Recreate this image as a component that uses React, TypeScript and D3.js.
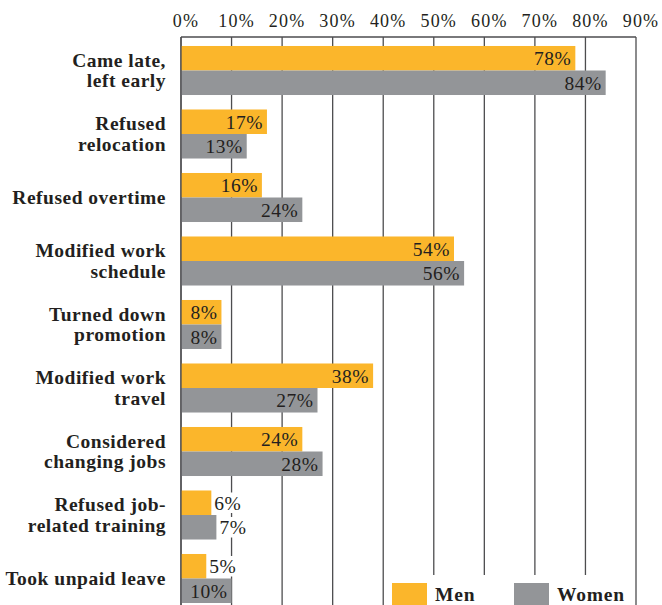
import React, { useEffect } from "react";
import * as d3 from "d3";

const categories = [
  "Came late,\nleft early",
  "Refused\nrelocation",
  "Refused overtime",
  "Modified work\nschedule",
  "Turned down\npromotion",
  "Modified work\ntravel",
  "Considered\nchanging jobs",
  "Refused job-\nrelated training",
  "Took unpaid leave",
];
const series = ["Men", "Women"];
const menValues = [78, 17, 16, 54, 8, 38, 24, 6, 5];
const womenValues = [84, 13, 24, 56, 8, 27, 28, 7, 10];
const tickValues = [0, 10, 20, 30, 40, 50, 60, 70, 80, 90];

const W = 662;
const H = 605;
const COLORS: Record<string, string> = { Men: "#FBB62B", Women: "#939598" };
const TEXT = "#231F20";
const LINE = "#4D4D4F";
const FONT = "'Liberation Serif', 'DejaVu Serif', serif";

export default function App() {
  useEffect(() => {
    document.body.style.margin = "0";
  }, []);

  const x = d3.scaleLinear().domain([0, 90]).range([181, 636]);
  const y = d3
    .scaleBand<string>()
    .domain(categories)
    .range([38.75, 610.25])
    .paddingInner(0.228)
    .paddingOuter(0.114);
  const ySub = d3.scaleBand<string>().domain(series).range([0, y.bandwidth()]);
  const valuesBy: Record<string, number[]> = { Men: menValues, Women: womenValues };

  const top = 37;

  return (
    <svg
      width={W}
      height={H}
      style={{ position: "absolute", left: 0, top: 0, background: "#fff" }}
      fontFamily={FONT}
    >
      {tickValues.map((t) => (
        <line
          key={"g" + t}
          x1={x(t)}
          x2={x(t)}
          y1={top}
          y2={H}
          stroke={LINE}
          strokeWidth={1.3}
        />
      ))}
      <line x1={x(0)} x2={x(90)} y1={top} y2={top} stroke={LINE} strokeWidth={1.3} />
      {tickValues.map((t) => (
        <text
          key={"t" + t}
          x={x(t) + 5}
          y={27}
          textAnchor="middle"
          fontSize={18}
          letterSpacing={1.2}
          fill={TEXT}
        >
          {t + "%"}
        </text>
      ))}
      {categories.map((c, i) =>
        series.map((s) => {
          const v = valuesBy[s][i];
          const y0 = (y(c) as number) + (ySub(s) as number);
          const h = ySub.bandwidth();
          const inside = v >= 8;
          const lx = inside ? x(v) - 4 : x(v) + 3;
          return (
            <g key={c + s}>
              <rect x={x(0)} y={y0} width={x(v) - x(0)} height={h} fill={COLORS[s]} />
              {!inside && (
                <rect x={x(v) + 1} y={y0 + 2} width={32} height={h - 4} fill="#fff" />
              )}
              <text
                x={lx}
                y={y0 + h / 2 + 7}
                textAnchor={inside ? "end" : "start"}
                fontSize={19.5}
                letterSpacing={0.5}
                fill={TEXT}
              >
                {v + "%"}
              </text>
            </g>
          );
        })
      )}
      <line x1={x(0)} x2={x(0)} y1={top} y2={H} stroke={LINE} strokeWidth={1.3} />
      {categories.map((c) => {
        const lines = c.split("\n");
        const cy = (y(c) as number) + y.bandwidth() / 2;
        return (
          <text
            key={"c" + c}
            textAnchor="end"
            fontSize={19.5}
            letterSpacing={0.5}
            fontWeight="bold"
            fill={TEXT}
          >
            {lines.length === 1 ? (
              <tspan x={166} y={cy + 6}>
                {lines[0]}
              </tspan>
            ) : (
              lines.map((l, k) => (
                <tspan key={k} x={166} y={cy - 4 + k * 20.5}>
                  {l}
                </tspan>
              ))
            )}
          </text>
        );
      })}
      <rect x={390} y={575} width={239} height={H - 575} fill="#fff" />
      {series.map((s, k) => (
        <g key={"l" + s}>
          <rect x={392 + k * 122} y={583} width={35} height={H - 583} fill={COLORS[s]} />
          <text
            x={435 + k * 122}
            y={601}
            fontSize={19.5}
            letterSpacing={0.8}
            fontWeight="bold"
            fill={TEXT}
          >
            {s}
          </text>
        </g>
      ))}
    </svg>
  );
}
